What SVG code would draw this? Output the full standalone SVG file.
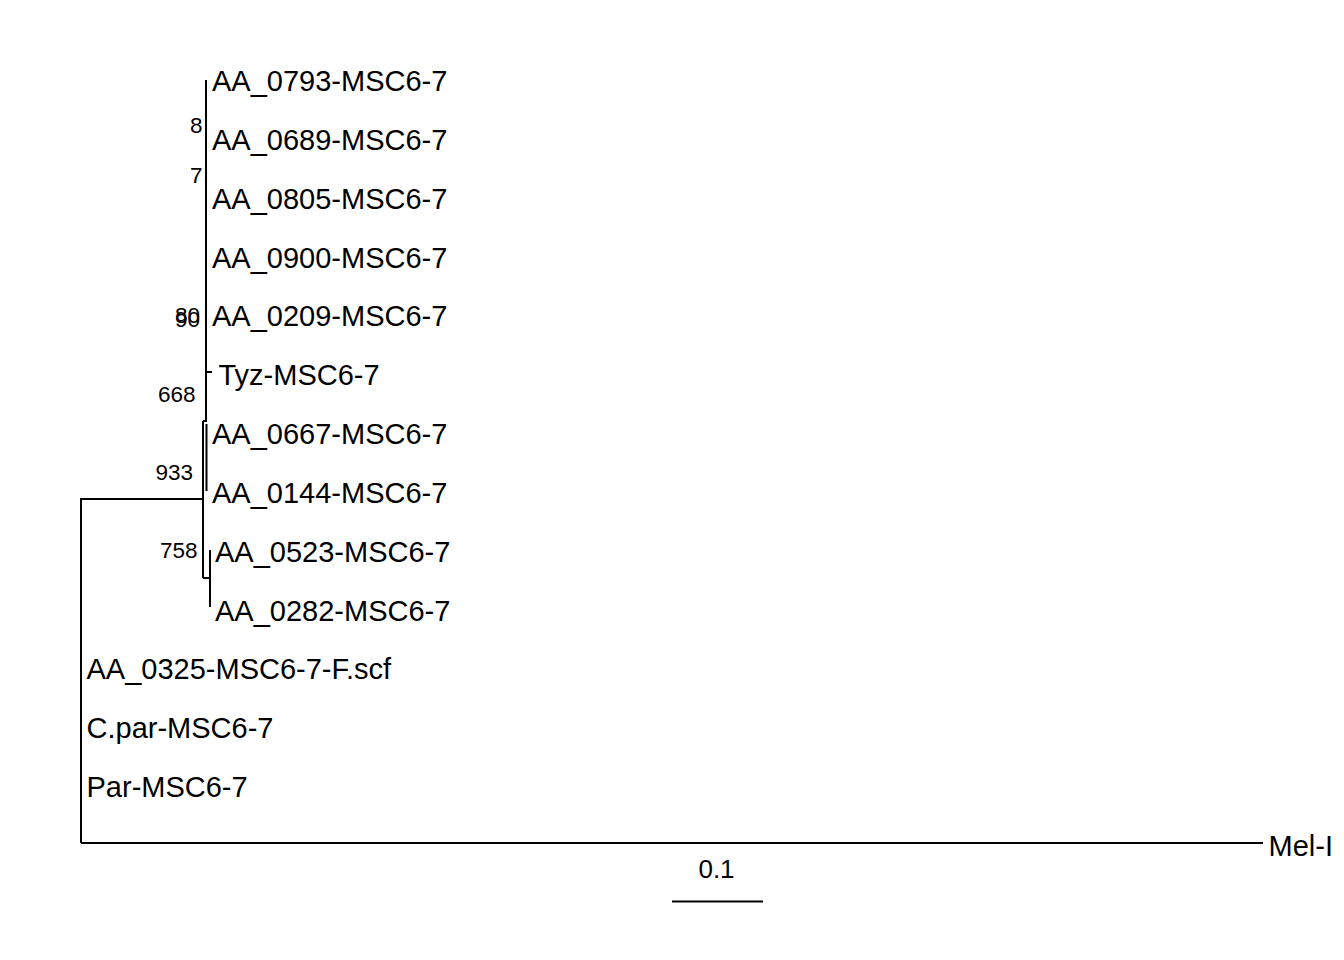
<svg xmlns="http://www.w3.org/2000/svg" width="1344" height="960" viewBox="0 0 1344 960">
<style>
.tip{font-family:"Liberation Sans",Arial,sans-serif;font-size:29px;fill:#000}
.sup{font-family:"Liberation Sans",Arial,sans-serif;font-size:22.5px;fill:#000;text-anchor:end}
.scl{font-family:"Liberation Sans",Arial,sans-serif;font-size:26px;fill:#000;text-anchor:middle}
.br{stroke:#000;stroke-width:2;fill:none}
</style>
<rect width="1344" height="960" fill="#fff"/>
<g id="connectors" class="br">
<path d="M81,843 V499 H203"/>
<path d="M81,843 H1263"/>
<path d="M203,421 V578"/>
<path d="M203,421 H206 V80"/>
<path d="M206.5,424 V491"/>
<path d="M206,372 H212"/>
<path d="M203,578 H210"/>
<path d="M210,550 V607"/>
<path d="M672,901.5 H763"/>
</g>
<g id="tip-AA_0793"><text class="tip" x="212" y="91">AA_0793-MSC6-7</text></g>
<g id="tip-AA_0689"><text class="tip" x="212" y="150">AA_0689-MSC6-7</text></g>
<g id="tip-AA_0805"><text class="tip" x="212" y="208.5">AA_0805-MSC6-7</text></g>
<g id="tip-AA_0900"><text class="tip" x="212" y="267.5">AA_0900-MSC6-7</text></g>
<g id="tip-AA_0209"><text class="tip" x="212" y="326">AA_0209-MSC6-7</text></g>
<g id="tip-Tyz"><text class="tip" x="218.5" y="385">Tyz-MSC6-7</text></g>
<g id="tip-AA_0667"><text class="tip" x="212" y="444">AA_0667-MSC6-7</text></g>
<g id="tip-AA_0144"><text class="tip" x="212" y="503">AA_0144-MSC6-7</text></g>
<g id="tip-AA_0523"><text class="tip" x="215" y="561.5">AA_0523-MSC6-7</text></g>
<g id="tip-AA_0282"><text class="tip" x="215" y="620.5">AA_0282-MSC6-7</text></g>
<g id="tip-AA_0325"><text class="tip" x="86.5" y="679">AA_0325-MSC6-7-F.scf</text></g>
<g id="tip-Cpar"><text class="tip" x="86.5" y="738">C.par-MSC6-7</text></g>
<g id="tip-Par"><text class="tip" x="86.5" y="797">Par-MSC6-7</text></g>
<g id="tip-Mel"><text class="tip" x="1268.5" y="856">Mel-I</text></g>
<g id="support-labels">
<text class="sup" x="202.5" y="133">8</text>
<text class="sup" x="202.5" y="183">7</text>
<text class="sup" x="200" y="323">80</text>
<text class="sup" x="200" y="327">90</text>
<text class="sup" x="195.5" y="401.5">668</text>
<text class="sup" x="193" y="480">933</text>
<text class="sup" x="197.5" y="558">758</text>
</g>
<g id="scale-bar"><text class="scl" x="716.5" y="878">0.1</text></g>
</svg>
